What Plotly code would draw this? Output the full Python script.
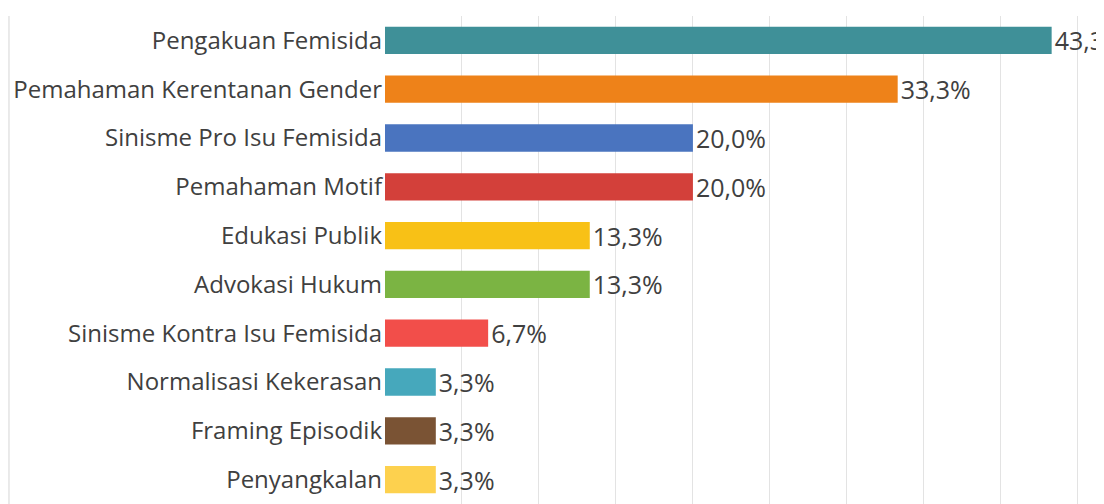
import plotly.graph_objects as go

categories = ["Pengakuan Femisida", "Pemahaman Kerentanan Gender", "Sinisme Pro Isu Femisida",
              "Pemahaman Motif", "Edukasi Publik", "Advokasi Hukum",
              "Sinisme Kontra Isu Femisida", "Normalisasi Kekerasan", "Framing Episodik", "Penyangkalan"]
values = [43.3, 33.3, 20.0, 20.0, 13.3, 13.3, 6.7, 3.3, 3.3, 3.3]
colors = ["#3F9098", "#EE8219", "#4A74BF", "#D3403A", "#F8C116", "#7BB443",
          "#F24E4A", "#46A8BC", "#7A5334", "#FDD14E"]
labels = [f"{v:.1f}%".replace(".", ",") for v in values]

fig = go.Figure(go.Bar(
    x=values, y=categories, orientation="h",
    marker=dict(color=colors, line=dict(width=0)),
    text=labels, textposition="outside", constraintext="none",
    textfont=dict(family="Open Sans", size=25, color="#404040"),
    cliponaxis=False,
))

fig.update_layout(
    width=1096, height=496,
    margin=dict(l=377, r=0, t=8, b=0, autoexpand=False),
    paper_bgcolor="white", plot_bgcolor="white",
    bargap=0.44, showlegend=False,
    font=dict(family="Open Sans", size=24, color="#404040"),
    xaxis=dict(range=[0, 46.7], dtick=5, showgrid=True, gridcolor="#e3e3e3", gridwidth=1,
               showticklabels=False, zeroline=False, showline=False, fixedrange=True,
               automargin=False),
    yaxis=dict(autorange="reversed", showgrid=False, showline=False, zeroline=False,
               ticks="", ticklabelstandoff=2, automargin=False,
               tickfont=dict(family="Open Sans", size=24, color="#404040")),
    shapes=[dict(type="line", xref="paper", yref="paper", x0=-0.523, x1=-0.523, y0=0, y1=1.0,
                 line=dict(color="#e3e3e3", width=1.5))],
)

fig.write_html("out.html")
